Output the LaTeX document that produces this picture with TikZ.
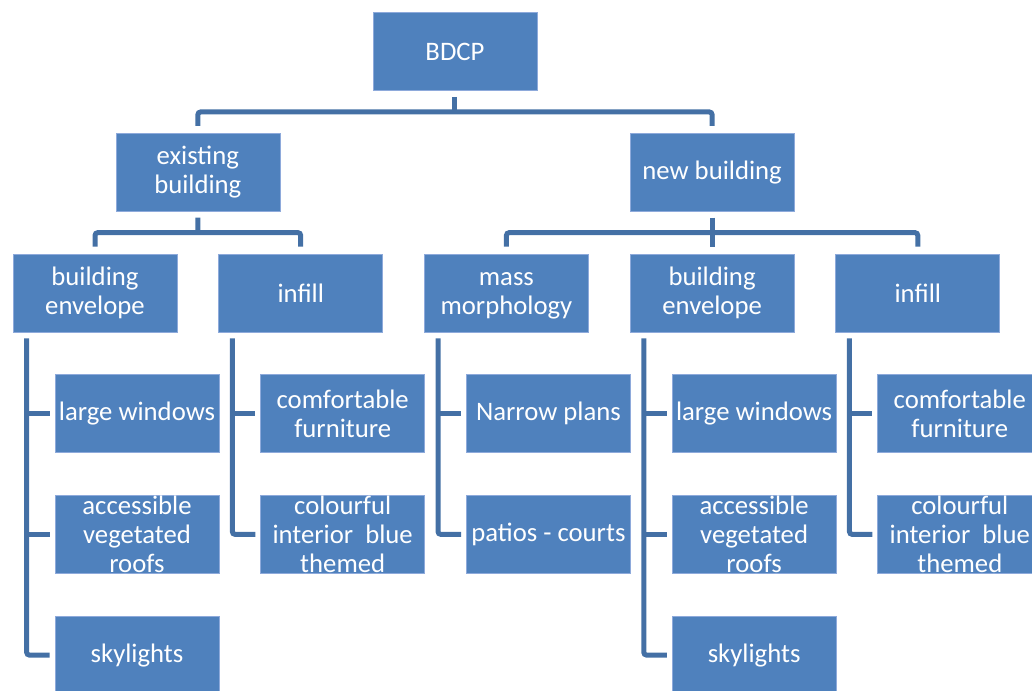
\documentclass[tikz,border=0pt]{standalone}
\usepackage{fontspec}
\setmainfont{Carlito}
\usetikzlibrary{positioning, calc}
\definecolor{boxblue}{HTML}{4F81BD}
\definecolor{boxedge}{HTML}{8EAADB}
\definecolor{linkblue}{HTML}{4470A5}
\tikzset{
  box/.style={rectangle, draw=boxedge, line width=0.5pt, fill=boxblue,
              minimum width=4.1cm, minimum height=1.95cm, inner sep=0pt,
              label={[boxtxt]center:#1}},
  boxtxt/.style={text=white, align=center,
                 font=\fontsize{19}{20.4}\selectfont},
  link/.style={draw=linkblue, line width=0.125cm, rounded corners=2pt},
}
\begin{document}
\begin{tikzpicture}[node distance=1.05cm and 1.025cm]
  \useasboundingbox (0,0) rectangle (25.8,-17.275);
  % second row
  \node[box={building\\envelope}] (env1) at (2.375,-7.325) {};
  \node[box=infill, right=of env1] (fill1) {};
  \node[box={\vphantom{l}mass\\morphology}, right=of fill1] (mass) {};
  \node[box={building\\envelope}, right=of mass] (env2) {};
  \node[box=infill, right=of env2] (fill2) {};
  % first row and root
  \node[box={\vphantom{l}existing\\building}, above=of $(env1.north)!0.5!(fill1.north)$] (exist) {};
  \node[box={new building}, above=of env2] (new) {};
  \node[box=BDCP, above=of $(exist.north)!0.5!(new.north)$] (bdcp) {};
  % leaves
  \node[box={large windows}, below right=1.05cm and 1.05cm of env1.south west] (win1) {};
  \node[box={accessible\\vegetated\\roofs}, below=of win1] (roof1) {};
  \node[box=skylights, below=of roof1] (sky1) {};
  \node[box={comfortable\\furniture}, below right=1.05cm and 1.05cm of fill1.south west] (furn1) {};
  \node[box={colourful\\interior~ blue\\themed}, below=of furn1] (col1) {};
  \node[box={Narrow plans}, below right=1.05cm and 1.05cm of mass.south west] (narrow) {};
  \node[box={patios - courts}, below=of narrow] (patio) {};
  \node[box={large windows}, below right=1.05cm and 1.05cm of env2.south west] (win2) {};
  \node[box={accessible\\vegetated\\roofs}, below=of win2] (roof2) {};
  \node[box=skylights, below=of roof2] (sky2) {};
  \node[box={comfortable\\furniture}, below right=1.05cm and 1.05cm of fill2.south west] (furn2) {};
  \node[box={colourful\\interior~ blue\\themed}, below=of furn2] (col2) {};

  % root to first row
  \coordinate (bar0) at ($(bdcp.south)!0.5!(bdcp.south |- exist.north)$);
  \draw[link] ([yshift=-0.15cm]bdcp.south) -- (bar0);
  \draw[link] ([yshift=0.175cm]exist.north) |- (bar0) -| ([yshift=0.175cm]new.north);
  % first row to second row
  \coordinate (bar1) at ($(exist.south)!0.5!(exist.south |- env1.north)$);
  \draw[link] ([yshift=-0.15cm]exist.south) -- (bar1);
  \draw[link] ([yshift=0.175cm]env1.north) |- (bar1) -| ([yshift=0.175cm]fill1.north);
  \coordinate (bar2) at ($(new.south)!0.5!(new.south |- env2.north)$);
  \draw[link] ([yshift=-0.15cm]new.south) -- ([yshift=0.175cm]env2.north);
  \draw[link] ([yshift=0.175cm]mass.north) |- (bar2 -| fill2) -- ([yshift=0.175cm]fill2.north);

  % brackets down to the leaves
  \coordinate (e1) at ([xshift=0.35cm, yshift=-0.15cm]env1.south west);
  \draw[link] (e1) |- ([xshift=-0.125cm]sky1.west);
  \draw[link] (e1 |- win1) -- ([xshift=-0.125cm]win1.west);
  \draw[link] (e1 |- roof1) -- ([xshift=-0.125cm]roof1.west);
  \coordinate (f1) at ([xshift=0.35cm, yshift=-0.15cm]fill1.south west);
  \draw[link] (f1) |- ([xshift=-0.125cm]col1.west);
  \draw[link] (f1 |- furn1) -- ([xshift=-0.125cm]furn1.west);
  \coordinate (m1) at ([xshift=0.35cm, yshift=-0.15cm]mass.south west);
  \draw[link] (m1) |- ([xshift=-0.125cm]patio.west);
  \draw[link] (m1 |- narrow) -- ([xshift=-0.125cm]narrow.west);
  \coordinate (e2) at ([xshift=0.35cm, yshift=-0.15cm]env2.south west);
  \draw[link] (e2) |- ([xshift=-0.125cm]sky2.west);
  \draw[link] (e2 |- win2) -- ([xshift=-0.125cm]win2.west);
  \draw[link] (e2 |- roof2) -- ([xshift=-0.125cm]roof2.west);
  \coordinate (f2) at ([xshift=0.35cm, yshift=-0.15cm]fill2.south west);
  \draw[link] (f2) |- ([xshift=-0.125cm]col2.west);
  \draw[link] (f2 |- furn2) -- ([xshift=-0.125cm]furn2.west);
\end{tikzpicture}
\end{document}
